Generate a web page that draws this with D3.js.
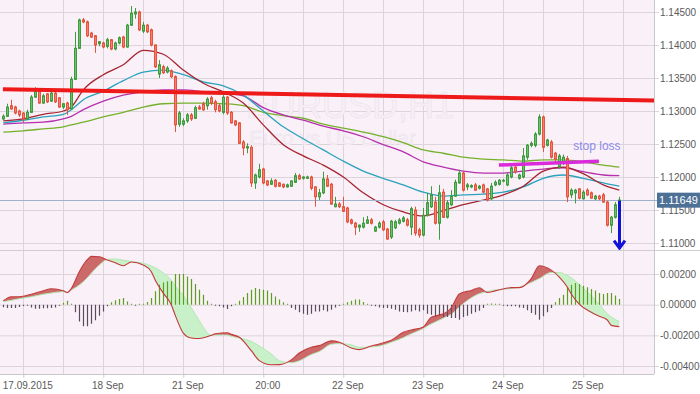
<!DOCTYPE html>
<html><head><meta charset="utf-8">
<script src="https://cdn.jsdelivr.net/npm/d3@7"></script>
<style>
body{margin:0;background:#fff}
svg{display:block}
text{font-family:"Liberation Sans",Arial,sans-serif}
</style>
</head><body>
<svg id="c" width="700" height="394"></svg>
<script>
// ---------- DATA (EURUSD H1) ----------
const openP = [1.1288,1.1292,1.1308,1.1306,1.1300,1.1297,1.1288,1.1298,1.1321,1.1330,1.1312,1.1326,1.1315,1.1327,1.1320,1.1306,1.1312,1.1303,1.1348,1.1395,
1.1438,1.1435,1.1418,1.1414,1.1402,1.1403,1.1398,1.1408,1.1394,1.1403,1.1412,1.1397,1.1430,1.1447,1.1450,1.1421,1.1430,1.1423,1.1400,1.1356,
1.1367,1.1359,1.1361,1.1352,1.1280,1.1280,1.1285,1.1294,1.1289,1.1306,1.1311,1.1308,1.1320,1.1314,1.1308,1.1298,1.1321,1.1298,1.1285,1.1282,
1.1253,1.1244,1.1245,1.1191,1.1200,1.1212,1.1194,1.1189,1.1195,1.1191,1.1189,1.1185,1.1186,1.1192,1.1202,1.1198,1.1198,1.1200,1.1185,1.1170,
1.1176,1.1197,1.1189,1.1155,1.1159,1.1155,1.1153,1.1135,1.1130,1.1124,1.1124,1.1130,1.1135,1.1118,1.1124,1.1132,1.1121,1.1109,1.1123,1.1130,
1.1133,1.1135,1.1124,1.1150,1.1120,1.1112,1.1142,1.1155,1.1162,1.1130,1.1177,1.1139,1.1158,1.1171,1.1191,1.1206,1.1185,1.1185,1.1188,1.1183,
1.1188,1.1182,1.1167,1.1188,1.1189,1.1194,1.1188,1.1200,1.1215,1.1198,1.1200,1.1230,1.1248,1.1248,1.1265,1.1291,1.1248,1.1253,1.1236,1.1215,
1.1223,1.1228,1.1173,1.1176,1.1182,1.1167,1.1180,1.1176,1.1167,1.1171,1.1173,1.1162,1.1127,1.1139,1.1158];
const highP = [1.1295,1.1311,1.1317,1.1308,1.1302,1.1298,1.1302,1.1324,1.1336,1.1332,1.1326,1.1327,1.1329,1.1329,1.1321,1.1312,1.1314,1.1352,1.1420,1.1440,
1.1441,1.1437,1.1420,1.1415,1.1406,1.1405,1.1411,1.1409,1.1405,1.1413,1.1414,1.1432,1.1459,1.1456,1.1452,1.1435,1.1432,1.1425,1.1401,1.1377,
1.1370,1.1368,1.1363,1.1354,1.1300,1.1289,1.1297,1.1297,1.1308,1.1309,1.1314,1.1321,1.1323,1.1317,1.1311,1.1324,1.1323,1.1300,1.1286,1.1283,
1.1256,1.1251,1.1248,1.1205,1.1220,1.1214,1.1195,1.1198,1.1197,1.1192,1.1190,1.1190,1.1195,1.1206,1.1205,1.1201,1.1202,1.1202,1.1186,1.1182,
1.1208,1.1203,1.1191,1.1170,1.1162,1.1170,1.1155,1.1137,1.1132,1.1128,1.1139,1.1141,1.1138,1.1126,1.1133,1.1135,1.1123,1.1135,1.1135,1.1138,
1.1141,1.1138,1.1155,1.1155,1.1123,1.1153,1.1176,1.1186,1.1170,1.1188,1.1182,1.1165,1.1180,1.1196,1.1211,1.1208,1.1191,1.1189,1.1191,1.1188,
1.1190,1.1183,1.1191,1.1195,1.1197,1.1197,1.1206,1.1217,1.1218,1.1205,1.1244,1.1250,1.1254,1.1268,1.1295,1.1293,1.1258,1.1256,1.1238,1.1235,
1.1234,1.1232,1.1183,1.1182,1.1183,1.1180,1.1183,1.1178,1.1173,1.1173,1.1176,1.1164,1.1141,1.1162,1.1170];
const lowP = [1.1286,1.1291,1.1302,1.1295,1.1291,1.1283,1.1286,1.1297,1.1320,1.1311,1.1311,1.1312,1.1314,1.1312,1.1305,1.1303,1.1294,1.1303,1.1347,1.1394,
1.1433,1.1412,1.1411,1.1388,1.1398,1.1395,1.1395,1.1392,1.1392,1.1401,1.1395,1.1396,1.1429,1.1440,1.1421,1.1418,1.1418,1.1398,1.1365,1.1350,
1.1356,1.1357,1.1350,1.1268,1.1276,1.1277,1.1282,1.1285,1.1288,1.1302,1.1300,1.1302,1.1309,1.1298,1.1298,1.1295,1.1294,1.1281,1.1277,1.1250,
1.1233,1.1236,1.1185,1.1182,1.1198,1.1189,1.1186,1.1188,1.1184,1.1185,1.1183,1.1184,1.1185,1.1191,1.1196,1.1196,1.1197,1.1180,1.1155,1.1165,
1.1174,1.1185,1.1158,1.1154,1.1153,1.1147,1.1130,1.1128,1.1112,1.1117,1.1122,1.1129,1.1128,1.1117,1.1122,1.1118,1.1105,1.1106,1.1121,1.1128,
1.1131,1.1125,1.1112,1.1111,1.1108,1.1110,1.1140,1.1153,1.1128,1.1105,1.1138,1.1137,1.1156,1.1170,1.1190,1.1178,1.1180,1.1183,1.1179,1.1181,
1.1175,1.1163,1.1165,1.1186,1.1187,1.1192,1.1186,1.1198,1.1205,1.1196,1.1198,1.1226,1.1245,1.1245,1.1263,1.1238,1.1246,1.1228,1.1222,1.1212,
1.1218,1.1162,1.1168,1.1160,1.1166,1.1166,1.1171,1.1167,1.1165,1.1165,1.1161,1.1125,1.1115,1.1137,1.1155];
const closeP = [1.1292,1.1306,1.1303,1.1297,1.1294,1.1288,1.1298,1.1321,1.1330,1.1312,1.1323,1.1314,1.1327,1.1314,1.1306,1.1311,1.1302,1.1348,1.1395,1.1438,
1.1435,1.1414,1.1412,1.1400,1.1405,1.1397,1.1408,1.1394,1.1403,1.1411,1.1397,1.1430,1.1448,1.1450,1.1423,1.1430,1.1420,1.1400,1.1367,1.1370,
1.1358,1.1365,1.1352,1.1279,1.1297,1.1285,1.1294,1.1288,1.1305,1.1303,1.1302,1.1318,1.1312,1.1302,1.1300,1.1321,1.1297,1.1282,1.1279,1.1251,
1.1244,1.1246,1.1191,1.1203,1.1211,1.1191,1.1188,1.1194,1.1186,1.1186,1.1185,1.1188,1.1194,1.1202,1.1197,1.1200,1.1200,1.1183,1.1170,1.1176,
1.1197,1.1186,1.1159,1.1159,1.1155,1.1148,1.1132,1.1130,1.1124,1.1127,1.1130,1.1135,1.1130,1.1124,1.1130,1.1120,1.1106,1.1133,1.1132,1.1135,
1.1138,1.1127,1.1152,1.1115,1.1112,1.1142,1.1161,1.1173,1.1130,1.1176,1.1139,1.1161,1.1171,1.1192,1.1206,1.1180,1.1188,1.1187,1.1180,1.1186,
1.1177,1.1165,1.1186,1.1192,1.1195,1.1195,1.1203,1.1214,1.1208,1.1203,1.1232,1.1248,1.1251,1.1265,1.1291,1.1245,1.1256,1.1230,1.1227,1.1232,
1.1230,1.1170,1.1180,1.1180,1.1168,1.1177,1.1173,1.1168,1.1171,1.1167,1.1162,1.1127,1.1139,1.1158,1.1165];

// moving averages, sampled at candle indices
const maIdx = [0,5,10,15,17,20,25,30,35,40,45,50,55,60,65,70,75,80,85,90,95,100,105,110,115,120,125,130,135,140,145,150,154];
const maFast = [1.1285,1.1288,1.1295,1.1300,1.1306,1.1332,1.1355,1.1370,1.1392,1.1386,1.1362,1.1342,1.1329,1.1312,1.1279,1.1249,1.1232,1.1218,1.1200,1.1176,1.1158,1.1147,1.1141,1.1149,1.1158,1.1165,1.1173,1.1186,1.1209,1.1215,1.1205,1.1188,1.1180];
const maTeal = [1.1282,1.1286,1.1291,1.1295,1.1302,1.1317,1.1330,1.1346,1.1359,1.1362,1.1355,1.1344,1.1338,1.1324,1.1300,1.1276,1.1258,1.1241,1.1224,1.1209,1.1198,1.1188,1.1177,1.1171,1.1173,1.1174,1.1177,1.1185,1.1198,1.1203,1.1198,1.1191,1.1186];
const maPurple = [1.1280,1.1282,1.1283,1.1288,1.1292,1.1302,1.1315,1.1324,1.1329,1.1332,1.1332,1.1329,1.1327,1.1323,1.1305,1.1294,1.1286,1.1277,1.1270,1.1261,1.1249,1.1238,1.1223,1.1215,1.1209,1.1206,1.1206,1.1209,1.1212,1.1214,1.1208,1.1203,1.1202];
const maGreen = [1.1268,1.1270,1.1273,1.1276,1.1279,1.1283,1.1291,1.1298,1.1306,1.1311,1.1312,1.1312,1.1311,1.1308,1.1298,1.1293,1.1289,1.1280,1.1274,1.1268,1.1261,1.1252,1.1241,1.1236,1.1230,1.1227,1.1226,1.1224,1.1226,1.1226,1.1223,1.1218,1.1215];

// MACD panel
const macdIdx = [0,2,4,7,10,12,15,16,17,19,21,22,24,26,28,30,32,35,37,38,40,42,43,45,47,49,52,53,56,57,59,62,64,67,69,72,74,77,79,82,84,87,89,92,94,97,100,102,105,107,108,111,112,114,117,119,121,123,127,129,132,134,137,139,141,142,144,147,149,151,152,154];
const macdMain = [0.00025,0.00052,0.00052,0.00068,0.00091,0.00104,0.00091,0.00079,0.00105,0.00215,
0.00293,0.00315,0.00312,0.00292,0.00273,0.00254,0.00278,0.00258,0.00215,0.00160,
0.00075,0.00000,-0.00070,-0.00185,-0.00217,-0.00221,-0.00200,-0.00190,-0.00183,-0.00193,
-0.00213,-0.00300,-0.00365,-0.00392,-0.00391,-0.00360,-0.00315,-0.00278,-0.00267,-0.00236,
-0.00245,-0.00282,-0.00293,-0.00270,-0.00256,-0.00232,-0.00180,-0.00165,-0.00145,-0.00082,
-0.00074,-0.00045,-0.00020,0.00070,0.00093,0.00110,0.00080,0.00090,0.00111,0.00111,
0.00170,0.00254,0.00225,0.00180,0.00115,0.00070,0.00003,-0.00050,-0.00076,-0.00100,
-0.00135,-0.00143];
const macdSignal = [0.00020,0.00028,0.00039,0.00052,0.00068,0.00076,0.00085,0.00079,0.00095,0.00128,
0.00175,0.00205,0.00258,0.00295,0.00298,0.00290,0.00282,0.00270,0.00252,0.00240,
0.00207,0.00160,0.00120,0.00060,-0.00020,-0.00105,-0.00200,-0.00198,-0.00198,-0.00206,
-0.00218,-0.00240,-0.00270,-0.00322,-0.00365,-0.00378,-0.00366,-0.00325,-0.00306,-0.00258,
-0.00254,-0.00262,-0.00278,-0.00275,-0.00270,-0.00245,-0.00215,-0.00190,-0.00156,-0.00125,
-0.00113,-0.00075,-0.00062,-0.00015,0.00045,0.00072,0.00085,0.00097,0.00105,0.00115,
0.00145,0.00170,0.00210,0.00210,0.00190,0.00175,0.00132,0.00057,0.00003,-0.00060,
-0.00080,-0.00111];
const histo = [-0.00017,-0.00022,-0.00022,-0.00022,-0.00015,-0.00008,-0.00003,-0.00018,-0.00026,-0.00026,
-0.00024,-0.00024,-0.00022,-0.00018,-0.00005,0.00013,0.00026,0.00002,-0.0005,-0.00109,
-0.00141,-0.00141,-0.00124,-0.00102,-0.00072,-0.00044,-0.00011,0.00015,0.00028,0.00037,
0.00044,0.00021,0.00002,-0.00007,0.00001,0.00005,0.00018,0.00044,0.00087,0.0013,
0.00145,0.00152,0.00152,0.002,0.002,0.002,0.00184,0.00167,0.00135,0.00098,
0.00065,0.00026,0.00001,-0.00007,-0.00011,-0.00018,-0.00028,-0.00011,0.00001,0.00026,
0.0005,0.00076,0.00098,0.00109,0.00102,0.00098,0.00093,0.00076,0.00054,0.00033,
0.00015,0.00001,-0.00021,-0.00033,-0.0005,-0.00059,-0.00065,-0.00059,-0.00044,-0.00044,
-0.00037,-0.00044,-0.00033,-0.00018,-0.00005,0.00001,0.00015,0.00026,0.00033,0.00033,
0.00018,0.00001,-0.00005,-0.00011,-0.00018,-0.00021,-0.00021,-0.00026,-0.00033,-0.00044,
-0.00048,-0.0005,-0.00044,-0.00037,-0.00044,-0.00037,-0.00059,-0.00065,-0.0008,-0.00072,
-0.0008,-0.0008,-0.00087,-0.00087,-0.00098,-0.0008,-0.00072,-0.00059,-0.0005,-0.00039,
-0.00021,0.00001,0.00007,0.00005,0.00001,-0.00005,-0.00011,-0.00011,-0.00011,-0.00018,
-0.00021,-0.00037,-0.00054,-0.00065,-0.00098,-0.00076,-0.0005,-0.00021,0.00015,0.00044,
0.00065,0.00113,0.0013,0.00141,0.00135,0.00124,0.00113,0.00102,0.00093,0.00076,
0.0007,0.00076,0.00076,0.00059,0.00037];

// axes
const priceTicks = [1.145,1.140,1.135,1.130,1.125,1.120,1.115,1.110];
const macdTicks = [0.002,0.000,-0.002,-0.004];
const timeTickIdx = [5,25,45,65,85,105,125,145];
const timeTickLabels = ["17.09.2015","18 Sep","21 Sep","20:00","22 Sep","23 Sep","24 Sep","25 Sep"];
const gridIdx = [5,15,25,35,45,55,65,75,85,95,105,115,125,135,145,155];

// annotations
const lastPrice = 1.11649;
const trendLine = [{k:-0.1,p:1.1333},{k:163,p:1.1316}];
const stopLine = [{k:123.9,p:1.1218},{k:148.9,p:1.1224}];
const stopLabel = "stop loss";
const stopLabelIdx = 148.4;
const arrowIdx = 154, arrowFrom = 1.1164, arrowTo = 1.1090;
const watermark1 = "EURUSD,H1", watermark2 = "Euro vs US Dollar";

// ---------- DRAW ----------
const svg = d3.select("#c");
const plotW = 654, mainTop = 0, mainBot = 250, macdTop = 250.5, macdBot = 374.5;
const x = d3.scaleLinear().domain([-0.825,162.675]).range([0,plotW]);
const y = d3.scaleLinear().domain([1.110,1.145]).range([243,12]);
const ym = d3.scaleLinear().domain([-0.004,0.002]).range([366,274]);
const axisFont = "10px";
const labCol = "#5a5a5a";

svg.append("rect").attr("width",700).attr("height",394).attr("fill","#fff");
svg.append("rect").attr("x",0).attr("y",0).attr("width",plotW).attr("height",macdBot).attr("fill","#faf0f8");

const defs = svg.append("defs");
defs.append("clipPath").attr("id","cMain").append("rect").attr("x",0).attr("y",mainTop).attr("width",plotW).attr("height",mainBot-mainTop);
defs.append("clipPath").attr("id","cMacd").append("rect").attr("x",0).attr("y",macdTop).attr("width",plotW).attr("height",macdBot-macdTop);

const gridCol = "#dbd5db";
// vertical grid
svg.append("g").selectAll("line").data(gridIdx.filter(k=>x(k)<plotW)).join("line")
  .attr("x1",d=>Math.round(x(d))+0.5).attr("x2",d=>Math.round(x(d))+0.5)
  .attr("y1",0).attr("y2",macdBot).attr("stroke",gridCol).attr("stroke-width",1);

// price axis (right)
const yAxis = d3.axisRight(y).tickValues(priceTicks).tickFormat(d=>d.toFixed(5)).tickSize(5).tickPadding(1);
const gy = svg.append("g").attr("transform",`translate(${plotW},0)`).call(yAxis);
gy.select(".domain").remove();
gy.selectAll(".tick line").attr("stroke",gridCol).attr("x1",-plotW);
gy.selectAll(".tick text").attr("fill",labCol).style("font-size",axisFont).style("font-family","Liberation Sans, Arial, sans-serif");

// MACD axis
const mAxis = d3.axisRight(ym).tickValues(macdTicks).tickFormat(d=>d.toFixed(5)).tickSize(5).tickPadding(1);
const gm = svg.append("g").attr("transform",`translate(${plotW},0)`).call(mAxis);
gm.select(".domain").remove();
gm.selectAll(".tick line").attr("stroke",gridCol).attr("x1",-plotW);
gm.selectAll(".tick text").attr("fill",labCol).style("font-size",axisFont).style("font-family","Liberation Sans, Arial, sans-serif");

// borders
svg.append("line").attr("x1",0).attr("x2",700).attr("y1",250.5).attr("y2",250.5).attr("stroke","#cfcfcf");
svg.append("line").attr("x1",0).attr("x2",plotW).attr("y1",macdBot).attr("y2",macdBot).attr("stroke","#c8c8c8");
svg.append("line").attr("x1",plotW+0.5).attr("x2",plotW+0.5).attr("y1",0).attr("y2",macdBot).attr("stroke","#c8c8c8");

// time axis
const xAxis = d3.axisBottom(x).tickValues(timeTickIdx).tickFormat((d,i)=>timeTickLabels[i]).tickSize(3).tickPadding(4);
const gx = svg.append("g").attr("transform",`translate(0,${macdBot})`).call(xAxis);
gx.select(".domain").remove();
gx.selectAll(".tick line").attr("stroke","#c8c8c8");
gx.selectAll(".tick text").attr("fill",labCol).attr("dx",4).style("font-size",axisFont).style("font-family","Liberation Sans, Arial, sans-serif");

// watermark
const main = svg.append("g").attr("clip-path","url(#cMain)");
main.append("text").attr("x",246).attr("y",118).text(watermark1)
  .attr("fill","#f6eff6").attr("stroke","#ebe3eb").attr("stroke-width",0.6).style("font-size","36px");
main.append("text").attr("x",249).attr("y",145).text(watermark2)
  .attr("fill","#f6eff6").attr("stroke","#ebe3eb").attr("stroke-width",0.5).style("font-size","21px");

// moving averages
const maLine = d3.line().x(d=>x(d[0])).y(d=>y(d[1])).curve(d3.curveMonotoneX);
[[maGreen,"#74b12a"],[maPurple,"#b52fae"],[maTeal,"#2aa2bc"],[maFast,"#a52530"]].forEach(([arr,col])=>{
  main.append("path").datum(maIdx.map((k,i)=>[k,arr[i]])).attr("d",maLine)
    .attr("fill","none").attr("stroke",col).attr("stroke-width",1.3);
});

// current price line
main.append("line").attr("x1",0).attr("x2",plotW).attr("y1",Math.round(y(lastPrice))+0.5).attr("y2",Math.round(y(lastPrice))+0.5)
  .attr("stroke","#9fb2cb").attr("stroke-width",1);
svg.append("line").attr("x1",plotW).attr("x2",658).attr("y1",Math.round(y(lastPrice))+0.5).attr("y2",Math.round(y(lastPrice))+0.5)
  .attr("stroke","#9fb2cb").attr("stroke-width",1);

// candles
const candles = openP.map((o,i)=>({k:i,o,h:highP[i],l:lowP[i],c:closeP[i]}));
const cg = main.append("g");
cg.selectAll("line").data(candles).join("line")
  .attr("x1",d=>Math.round(x(d.k))+0.5).attr("x2",d=>Math.round(x(d.k))+0.5)
  .attr("y1",d=>y(d.h)).attr("y2",d=>y(d.l))
  .attr("stroke",d=>d.c>=d.o?"#3f9b3f":"#e4553f").attr("stroke-width",1);
cg.selectAll("rect").data(candles).join("rect")
  .attr("x",d=>Math.round(x(d.k))-0.5).attr("width",2)
  .attr("y",d=>y(Math.max(d.o,d.c))).attr("height",d=>Math.max(0.8,Math.abs(y(d.o)-y(d.c))))
  .attr("fill",d=>d.c>=d.o?"#6cc16c":"#fb7c6b")
  .attr("stroke",d=>d.c>=d.o?"#3f9b3f":"#e4553f").attr("stroke-width",1);

// trend line
const straight = d3.line().x(d=>x(d.k)).y(d=>y(d.p));
main.append("path").datum(trendLine).attr("d",straight).attr("stroke","#ee1a1a").attr("stroke-width",4).attr("fill","none");
// stop loss line
main.append("path").datum(stopLine).attr("d",straight).attr("stroke","#d92bd9").attr("stroke-width",3.5).attr("fill","none");
main.append("text").attr("x",x(stopLabelIdx)).attr("y",150).attr("text-anchor","middle").text(stopLabel)
  .attr("fill","#8b8be8").style("font-size","12px");

// arrow
const ax = Math.round(x(arrowIdx))+0.5;
main.append("line").attr("x1",ax).attr("x2",ax).attr("y1",y(arrowFrom)).attr("y2",y(arrowTo)-2)
  .attr("stroke","#1212d8").attr("stroke-width",3);
main.append("path").attr("d",`M${ax-5.5},${y(arrowTo)-9} L${ax},${y(arrowTo)-1.5} L${ax+5.5},${y(arrowTo)-9}`)
  .attr("stroke","#1212d8").attr("stroke-width",3).attr("fill","none").attr("stroke-linejoin","miter");

// last price label
const ly = y(lastPrice);
svg.append("rect").attr("x",657).attr("y",ly-7.5).attr("width",43).attr("height",15).attr("fill","#4d7097");
svg.append("text").attr("x",659).attr("y",ly).attr("dy","0.35em").text(lastPrice.toFixed(5))
  .attr("fill","#fff").style("font-size","11px");

// ---------- MACD ----------
const mg = svg.append("g").attr("clip-path","url(#cMacd)");
const mpts = macdIdx.map((k,i)=>({k,m:macdMain[i],s:macdSignal[i]}));
const cur = d3.curveMonotoneX;
defs.append("clipPath").attr("id","belowM").append("path")
  .attr("d",d3.area().x(d=>x(d.k)).y0(macdBot).y1(d=>ym(d.m)).curve(cur)(mpts));
defs.append("clipPath").attr("id","aboveM").append("path")
  .attr("d",d3.area().x(d=>x(d.k)).y0(macdTop).y1(d=>ym(d.m)).curve(cur)(mpts));
const between = d3.area().x(d=>x(d.k)).y0(d=>ym(d.s)).y1(d=>ym(d.m)).curve(cur);
mg.append("g").attr("clip-path","url(#belowM)").append("path").datum(mpts).attr("d",between).attr("fill","#cc6a6a");
mg.append("g").attr("clip-path","url(#aboveM)").append("path").datum(mpts).attr("d",between).attr("fill","#c9f1c9");
mg.append("path").datum(mpts).attr("d",d3.line().x(d=>x(d.k)).y(d=>ym(d.s)).curve(cur))
  .attr("fill","none").attr("stroke","#b3e6b3").attr("stroke-width",1);

// histogram
mg.append("g").selectAll("line").data(histo.map((v,i)=>({k:i,v}))).join("line")
  .attr("x1",d=>Math.round(x(d.k))+0.5).attr("x2",d=>Math.round(x(d.k))+0.5)
  .attr("y1",ym(0)).attr("y2",d=>{const yy=ym(d.v);return Math.abs(yy-ym(0))<1?ym(0)+(d.v>=0?-1:1):yy;})
  .attr("stroke",d=>d.v>=0?"#5e9e1e":"#5c4a5e").attr("stroke-width",1.2);

mg.append("path").datum(mpts).attr("d",d3.line().x(d=>x(d.k)).y(d=>ym(d.m)).curve(cur))
  .attr("fill","none").attr("stroke","#c23a3a").attr("stroke-width",1.1);
</script>
</body></html>
